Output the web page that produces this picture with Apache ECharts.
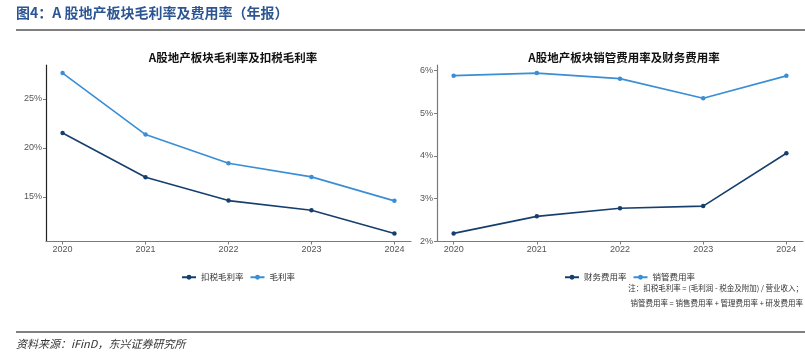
<!DOCTYPE html>
<html><head><meta charset="utf-8">
<script src="https://cdn.jsdelivr.net/npm/echarts@6/dist/echarts.min.js"></script>
<style>html,body{margin:0;padding:0;background:#fff}#c{width:805px;height:357px}</style>
</head><body><div id="c"></div>
<script>
var years = [2020, 2021, 2022, 2023, 2024];
var grossMargin = [27.65, 21.36, 18.44, 17.04, 14.59];        // 毛利率
var taxAdjMargin = [21.53, 17.00, 14.62, 13.64, 11.26];      // 扣税毛利率
var sellAdminRate = [5.88, 5.94, 5.81, 5.35, 5.875];         // 销管费用率
var financeRate = [2.18, 2.58, 2.77, 2.82, 4.06];            // 财务费用率
var leftTicks = [15, 20, 25];
var rightTicks = [2, 3, 4, 5, 6];

var DARK = '#173f6e', LIGHT = '#3a8ed6';
var FONT = '"Noto Sans CJK SC", "Liberation Sans", sans-serif';
var NUMFONT = '"Liberation Sans", Arial, sans-serif';
function pairs(v){ return years.map(function(y,i){ return [y, v[i]]; }); }

function xAxis(idx){
  return {gridIndex: idx, type:'value', min:2019.8, max:2024.2,
    axisLine:{show:true, lineStyle:{color:'#7a7a7a', width:1.2}},
    axisTick:{show:true, customValues: years, length:3, lineStyle:{color:'#7a7a7a'}},
    axisLabel:{customValues: years, color:'#555', fontSize:9, fontFamily:NUMFONT, margin:4,
      formatter:function(v){return String(v);}},
    splitLine:{show:false}};
}
function yAxis(idx, min, max, ticks, col){
  return {gridIndex: idx, type:'value', min:min, max:max,
    axisLine:{show:true, lineStyle:{color:col, width:1.2}},
    axisTick:{show:true, customValues: ticks, length:3, lineStyle:{color:'#7a7a7a'}},
    axisLabel:{customValues: ticks, color:'#555', fontSize:9, fontFamily:NUMFONT, margin:4,
      formatter:function(v){return v+'%';}},
    splitLine:{show:false}};
}
function line(name, data, color, idx){
  return {name:name, type:'line', xAxisIndex:idx, yAxisIndex:idx, data:pairs(data),
    symbol:'circle', symbolSize:4.5, lineStyle:{color:color, width:1.6},
    itemStyle:{color:color}, animation:false};
}
var chart = echarts.init(document.getElementById('c'));
chart.setOption({
  animation:false,
  textStyle:{fontFamily:FONT},
  title:[
    {text:'A股地产板块毛利率及扣税毛利率', left:228, top:47, textAlign:'center',
      textStyle:{fontSize:11.5, fontWeight:'bold', color:'#111', fontFamily:FONT}},
    {text:'A股地产板块销管费用率及财务费用率', left:619, top:47, textAlign:'center',
      textStyle:{fontSize:11.5, fontWeight:'bold', color:'#111', fontFamily:FONT}}
  ],
  grid:[
    {left:46, right:394, top:65, bottom:115.5},
    {left:437, right:2, top:65, bottom:115.5}
  ],
  xAxis:[xAxis(0), xAxis(1)],
  yAxis:[yAxis(0, 10.44, 28.47, leftTicks, '#222'), yAxis(1, 1.99, 6.13, rightTicks, '#7a7a7a')],
  legend:[
    {data:['扣税毛利率','毛利率'], left:176, top:268, itemWidth:14, itemHeight:6, itemGap:6,
      textStyle:{fontSize:8.5, color:'#333', fontFamily:FONT}},
    {data:['财务费用率','销管费用率'], left:559, top:268, itemWidth:14, itemHeight:6, itemGap:6,
      textStyle:{fontSize:8.5, color:'#333', fontFamily:FONT}}
  ],
  series:[
    line('扣税毛利率', taxAdjMargin, DARK, 0),
    line('毛利率', grossMargin, LIGHT, 0),
    line('财务费用率', financeRate, DARK, 1),
    line('销管费用率', sellAdminRate, LIGHT, 1)
  ],
  graphic:[
    {type:'text', left:16, top:6, style:{text:'图4：A 股地产板块毛利率及费用率（年报）',
      fill:'#2c5593', font:'bold 14px '+FONT}},
    {type:'line', shape:{x1:16, y1:30, x2:805, y2:30}, style:{stroke:'#808080', lineWidth:2}},
    {type:'text', right:2, top:284, style:{text:'注：扣税毛利率 = (毛利润 - 税金及附加) / 营业收入；',
      fill:'#333', font:'7.5px '+FONT, align:'right'}},
    {type:'text', right:2, top:299, style:{text:'销管费用率 = 销售费用率 + 管理费用率 + 研发费用率',
      fill:'#333', font:'7.5px '+FONT, align:'right'}},
    {type:'line', shape:{x1:16, y1:332, x2:805, y2:332}, style:{stroke:'#808080', lineWidth:2}},
    {type:'text', left:16, top:338, style:{text:'资料来源：iFinD，东兴证券研究所',
      fill:'#333', font:'italic 11px '+FONT}}
  ]
});
</script></body></html>
